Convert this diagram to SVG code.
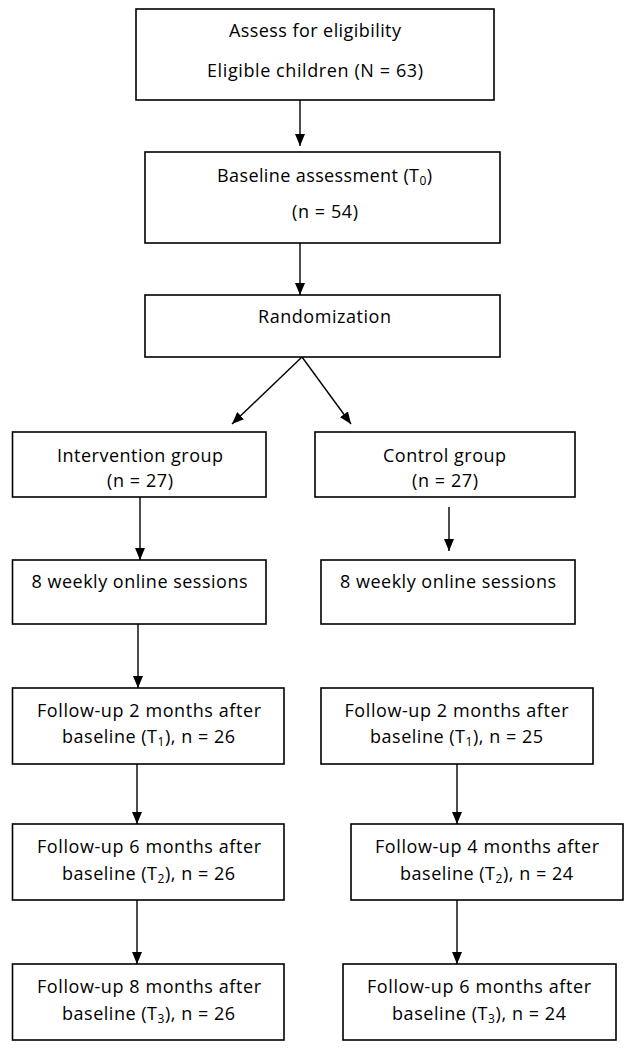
<svg xmlns="http://www.w3.org/2000/svg" width="631" height="1050" viewBox="0 0 631 1050">
<style>
.box{fill:#fff;stroke:#000;stroke-width:1.6}
.t{font-family:"Open Sans","Noto Sans","Liberation Sans",sans-serif;font-size:18px;fill:#000;text-anchor:middle}
.sub{font-size:12px}
.c{stroke:#000;stroke-width:1.4;fill:none;marker-end:url(#ah)}
</style>
<defs>
<marker id="ah" viewBox="0 0 12 10" refX="12" refY="5" markerWidth="12" markerHeight="10" markerUnits="userSpaceOnUse" orient="auto">
<path d="M0,0 L12,5 L0,10 Z" fill="#000"/>
</marker>
</defs>
<rect width="631" height="1050" fill="#fff"/>
<g id="connectors">
<line class="c" x1="300" y1="100" x2="300" y2="146"/>
<line class="c" x1="300" y1="243" x2="300" y2="295"/>
<line class="c" x1="302" y1="357" x2="232" y2="424"/>
<line class="c" x1="302" y1="357" x2="351" y2="424"/>
<line class="c" x1="140" y1="497" x2="140" y2="560"/>
<line class="c" x1="449" y1="507" x2="449" y2="551"/>
<line class="c" x1="138" y1="624" x2="138" y2="688"/>
<line class="c" x1="137" y1="764" x2="137" y2="824"/>
<line class="c" x1="457" y1="764" x2="457" y2="824"/>
<line class="c" x1="137" y1="900" x2="137" y2="964"/>
<line class="c" x1="457" y1="900" x2="457" y2="964"/>
</g>
<g id="eligibility">
<rect class="box" x="136" y="9" width="358" height="91"/>
<text class="t" x="315" y="37" textLength="172">Assess for eligibility</text>
<text class="t" x="315" y="77" textLength="216">Eligible children (N = 63)</text>
</g>
<g id="baseline">
<rect class="box" x="145" y="152" width="355" height="91"/>
<text class="t" x="324.5" y="182" textLength="215">Baseline assessment (T<tspan class="sub" dy="3">0</tspan><tspan dy="-3">)</tspan></text>
<text class="t" x="325" y="218" textLength="66">(n = 54)</text>
</g>
<g id="randomization">
<rect class="box" x="145" y="295" width="355" height="62"/>
<text class="t" x="324.5" y="323" textLength="133">Randomization</text>
</g>
<g id="intervention">
<rect class="box" x="12.5" y="432" width="253.5" height="65"/>
<text class="t" x="140" y="462" textLength="166">Intervention group</text>
<text class="t" x="140" y="487" textLength="66">(n = 27)</text>
</g>
<g id="control">
<rect class="box" x="315" y="432" width="260" height="65"/>
<text class="t" x="444.5" y="462" textLength="123">Control group</text>
<text class="t" x="445" y="487" textLength="66">(n = 27)</text>
</g>
<g id="sessions-intervention">
<rect class="box" x="12.5" y="560" width="253.5" height="64"/>
<text class="t" x="139.5" y="588" textLength="216">8 weekly online sessions</text>
</g>
<g id="sessions-control">
<rect class="box" x="321" y="560" width="254" height="64"/>
<text class="t" x="448" y="588" textLength="216">8 weekly online sessions</text>
</g>
<g id="t1-intervention">
<rect class="box" x="12.5" y="688" width="271.5" height="76"/>
<text class="t" x="149" y="717" textLength="224">Follow-up 2 months after</text>
<text class="t" x="148.5" y="743" textLength="173">baseline (T<tspan class="sub" dy="3">1</tspan><tspan dy="-3">), n = 26</tspan></text>
</g>
<g id="t1-control">
<rect class="box" x="321" y="688" width="272" height="76"/>
<text class="t" x="456.5" y="717" textLength="224">Follow-up 2 months after</text>
<text class="t" x="456.5" y="743" textLength="173">baseline (T<tspan class="sub" dy="3">1</tspan><tspan dy="-3">), n = 25</tspan></text>
</g>
<g id="t2-intervention">
<rect class="box" x="12.5" y="824" width="271.5" height="76"/>
<text class="t" x="149" y="853" textLength="224">Follow-up 6 months after</text>
<text class="t" x="148.5" y="880" textLength="173">baseline (T<tspan class="sub" dy="3">2</tspan><tspan dy="-3">), n = 26</tspan></text>
</g>
<g id="t2-control">
<rect class="box" x="351" y="824" width="272" height="76"/>
<text class="t" x="487" y="853" textLength="224">Follow-up 4 months after</text>
<text class="t" x="486.5" y="880" textLength="173">baseline (T<tspan class="sub" dy="3">2</tspan><tspan dy="-3">), n = 24</tspan></text>
</g>
<g id="t3-intervention">
<rect class="box" x="12.5" y="964" width="271.5" height="76"/>
<text class="t" x="149" y="993" textLength="224">Follow-up 8 months after</text>
<text class="t" x="148.5" y="1020" textLength="173">baseline (T<tspan class="sub" dy="3">3</tspan><tspan dy="-3">), n = 26</tspan></text>
</g>
<g id="t3-control">
<rect class="box" x="343" y="964" width="273" height="76"/>
<text class="t" x="479" y="993" textLength="224">Follow-up 6 months after</text>
<text class="t" x="479" y="1020" textLength="174">baseline (T<tspan class="sub" dy="3">3</tspan><tspan dy="-3">), n = 24</tspan></text>
</g>
</svg>
